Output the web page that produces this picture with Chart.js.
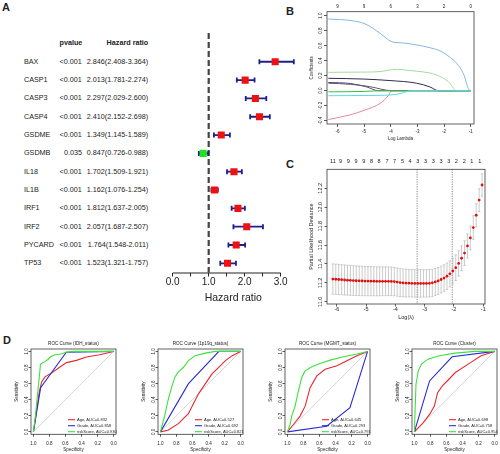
<!DOCTYPE html>
<html>
<head>
<meta charset="utf-8">
<script src="https://cdn.jsdelivr.net/npm/chart.js@4.4.1/dist/chart.umd.min.js"></script>
<style>
  html, body { margin: 0; padding: 0; background: #fff; }
  #page { position: relative; width: 500px; height: 454px; overflow: hidden; font-family: "Liberation Sans", Arial, sans-serif; color: #222; }
  canvas { position: absolute; }
  .lbl { position: absolute; white-space: nowrap; line-height: 1; font-size: 8px; }
  .tag { position: absolute; font-weight: bold; font-size: 11px; line-height: 1; }
</style>
</head>
<body>
<div id="page">
  <div class="tag" style="left:2px;top:2px">A</div>
  <div class="tag" style="left:286px;top:6px">B</div>
  <div class="tag" style="left:286px;top:159px">C</div>
  <div class="tag" style="left:3px;top:335px">D</div>
  <canvas id="forest" width="140" height="310" style="left:160px;top:0"></canvas>
  <canvas id="lasso" width="190" height="145" style="left:295px;top:0"></canvas>
  <canvas id="cv" width="195" height="172" style="left:295px;top:150px"></canvas>
  <canvas id="roc0" width="120" height="116" style="left:0;top:338px"></canvas>
  <canvas id="roc1" width="120" height="116" style="left:127px;top:338px"></canvas>
  <canvas id="roc2" width="120" height="116" style="left:254px;top:338px"></canvas>
  <canvas id="roc3" width="120" height="116" style="left:381px;top:338px"></canvas>
</div>
<script>
// ---- A: univariate Cox forest plot ----
const genes = ['BAX', 'CASP1', 'CASP3', 'CASP4', 'GSDME', 'GSDMB', 'IL18', 'IL1B', 'IRF1', 'IRF2', 'PYCARD', 'TP53'];
const pvals = ['<0.001', '<0.001', '<0.001', '<0.001', '<0.001', '0.035', '<0.001', '<0.001', '<0.001', '<0.001', '<0.001', '<0.001'];
const hr     = [2.846, 2.013, 2.297, 2.410, 1.349, 0.847, 1.702, 1.162, 1.812, 2.057, 1.764, 1.523];
const hrLow  = [2.408, 1.781, 2.029, 2.152, 1.145, 0.726, 1.509, 1.076, 1.637, 1.687, 1.548, 1.321];
const hrHigh = [3.364, 2.274, 2.600, 2.698, 1.589, 0.988, 1.921, 1.254, 2.005, 2.507, 2.011, 1.757];
const forestTicks = [0, 0.5, 1, 1.5, 2, 2.5, 3];

// ---- B: lasso coefficient paths [log lambda, coefficient] ----
const lassoXTicks = [-6, -5, -4, -3, -2, -1];
const lassoDf = [9, 9, 6, 3, 2, 0];
const lassoYTicks = [-0.4, -0.2, 0, 0.2, 0.4, 0.6, 0.8, 1.0];
const pathBlue = [[-6.34, 0.956], [-5.5, 0.935], [-4.96, 0.89], [-4.4, 0.765], [-3.96, 0.653], [-3.5, 0.635], [-3.03, 0.61], [-2.5, 0.57], [-2.15, 0.53], [-1.8, 0.45], [-1.53, 0.365], [-1.28, 0.23], [-1.03, 0], [-1.0, 0]];
const pathLightGreen = [[-6.34, 0.245], [-5.5, 0.247], [-4.96, 0.248], [-4.4, 0.255], [-3.78, 0.285], [-3.3, 0.27], [-3.03, 0.26], [-2.6, 0.24], [-2.28, 0.21], [-1.84, 0.12], [-1.53, 0], [-1.0, 0]];
const pathDark = [[-6.34, 0.165], [-5.0, 0.155], [-4.03, 0.135], [-3.03, 0.1], [-2.53, 0.05], [-2.22, 0], [-1.0, 0]];
const pathPurple = [[-6.34, 0.11], [-5.5, 0.095], [-4.9, 0.05], [-4.47, 0], [-1.0, 0]];
const pathGray = [[-6.34, 0.1], [-5.5, 0.085], [-4.8, 0.055], [-3.96, 0], [-1.0, 0]];
const pathGreen = [[-6.34, -0.015], [-5.0, -0.01], [-4.3, 0], [-1.0, 0]];
const pathCyan = [[-6.34, -0.067], [-5.0, -0.064], [-4.03, -0.058], [-3.6, -0.035], [-3.28, 0], [-1.0, 0]];
const pathPink = [[-6.34, -0.385], [-5.5, -0.32], [-4.96, -0.257], [-4.4, -0.17], [-4.1, -0.07], [-3.96, 0], [-1.0, 0]];

// ---- C: cross-validation curve ----
const cvLogLambda = [-6.14, -6.04, -5.94, -5.84, -5.74, -5.64, -5.54, -5.44, -5.34, -5.24, -5.14, -5.04, -4.94, -4.84, -4.74, -4.64, -4.54, -4.44, -4.34, -4.24, -4.14,
  -4.04, -3.94, -3.84, -3.74, -3.64, -3.54, -3.44, -3.34, -3.24, -3.14, -3.04, -2.94,
  -2.84, -2.74, -2.64, -2.54, -2.44, -2.34, -2.24, -2.14, -2.04, -1.94, -1.84, -1.74, -1.64, -1.54, -1.44, -1.34, -1.24, -1.14, -1.04];
const cvDeviance = [11.240, 11.238, 11.235, 11.233, 11.230, 11.228, 11.226, 11.224, 11.222, 11.221, 11.220, 11.219, 11.218, 11.217, 11.217, 11.216, 11.216, 11.216, 11.216, 11.216, 11.215,
  11.213, 11.208, 11.203, 11.199, 11.197, 11.196, 11.195, 11.194, 11.194, 11.194, 11.194, 11.194,
  11.195, 11.200, 11.210, 11.220, 11.235, 11.250, 11.270, 11.295, 11.325, 11.360, 11.405, 11.460, 11.515, 11.590, 11.675, 11.785, 11.915, 12.075, 12.235];
const cvSE = [0.160, 0.160, 0.160, 0.159, 0.159, 0.158, 0.158, 0.157, 0.157, 0.156, 0.156, 0.155, 0.155, 0.154, 0.154, 0.153, 0.153, 0.152, 0.152, 0.151, 0.151,
  0.150, 0.149, 0.148, 0.147, 0.146, 0.145, 0.145, 0.145, 0.145, 0.145, 0.145, 0.145,
  0.145, 0.144, 0.143, 0.142, 0.141, 0.140, 0.139, 0.138, 0.137, 0.136, 0.134, 0.132, 0.130, 0.128, 0.126, 0.124, 0.122, 0.120, 0.118];
const cvTopTicks = [-6.14, -5.88, -5.61, -5.35, -5.08, -4.82, -4.56, -4.29, -4.03, -3.76, -3.50, -3.24, -2.97, -2.71, -2.44, -2.18, -1.92, -1.65, -1.39, -1.12];
const cvNzero = [11, 9, 9, 9, 9, 8, 8, 7, 7, 5, 4, 3, 3, 3, 3, 3, 2, 2, 1, 1];
const cvYTicks = [11.0, 11.2, 11.4, 11.6, 11.8, 12.0, 12.2];
const cvLambdaMin = -3.26;
const cvLambda1se = -2.06;

// ---- D: ROC curves [specificity, sensitivity] ----
const rocTitles = ['ROC Curve (IDH_status)', 'ROC Curve (1p19q_status)', 'ROC Curve (MGMT_status)', 'ROC Curve (Cluster)'];
const aucAge = [0.832, 0.527, 0.645, 0.698];
const aucGrade = [0.858, 0.692, 0.293, 0.758];
const aucRisk = [0.930, 0.821, 0.791, 0.954];
const rocTicks = [0, 0.2, 0.4, 0.6, 0.8, 1.0];
const diagonal = [[1, 0], [0, 1]];

const idhAge = [[1, 0], [0.98, 0.13], [0.95, 0.34], [0.926, 0.5], [0.897, 0.62], [0.855, 0.684], [0.752, 0.746], [0.669, 0.807], [0.587, 0.861], [0.463, 0.889], [0.339, 0.93], [0.174, 0.959], [0, 1]];
const idhGrade = [[1, 0], [0.91, 0.55], [0.59, 0.99], [0, 1]];
const idhRisk = [[1, 0], [0.975, 0.2], [0.955, 0.4], [0.935, 0.6], [0.92, 0.75], [0.912, 0.84], [0.89, 0.855], [0.86, 0.87], [0.82, 0.9], [0.79, 0.93], [0.74, 0.955], [0.68, 0.965], [0.63, 0.975], [0.6, 0.99], [0.5, 1], [0, 1]];
const codelAge = [[1, 0], [0.905, 0.02], [0.777, 0.103], [0.651, 0.226], [0.588, 0.35], [0.525, 0.473], [0.441, 0.597], [0.357, 0.72], [0.273, 0.802], [0.189, 0.885], [0.105, 0.947], [0, 1]];
const codelGrade = [[1, 0], [0.65, 0.6], [0.27, 1], [0, 1]];
const codelRisk = [[1, 0], [0.95, 0.185], [0.905, 0.39], [0.86, 0.556], [0.82, 0.68], [0.78, 0.74], [0.714, 0.8], [0.65, 0.885], [0.567, 0.947], [0.44, 0.979], [0.315, 1], [0, 1]];
const mgmtAge = [[1, 0], [0.925, 0.092], [0.842, 0.196], [0.779, 0.32], [0.717, 0.55], [0.633, 0.696], [0.529, 0.779], [0.383, 0.821], [0.258, 0.883], [0.133, 0.946], [0, 1]];
const mgmtGrade = [[1, 0], [0.51, 0.07], [0.22, 0.3], [0, 1]];
const mgmtRisk = [[1, 0], [0.967, 0.092], [0.946, 0.196], [0.904, 0.32], [0.863, 0.508], [0.821, 0.675], [0.779, 0.758], [0.696, 0.808], [0.592, 0.85], [0.467, 0.892], [0.3, 0.933], [0.133, 0.967], [0, 1]];
const clusterAge = [[1, 0], [0.892, 0.113], [0.811, 0.217], [0.751, 0.32], [0.711, 0.488], [0.651, 0.571], [0.57, 0.654], [0.49, 0.738], [0.329, 0.842], [0.169, 0.946], [0, 1]];
const clusterGrade = [[1, 0], [0.811, 0.633], [0.53, 0.933], [0, 1]];
const clusterRisk = [[1, 0], [0.992, 0.258], [0.98, 0.592], [0.952, 0.758], [0.912, 0.842], [0.831, 0.904], [0.691, 0.946], [0.49, 0.979], [0.249, 1], [0, 1]];

const FONT = '"Liberation Sans", Arial, Helvetica, sans-serif';
Chart.defaults.font.family = FONT;
Chart.defaults.color = '#222';
Chart.defaults.animation = false;
Chart.defaults.responsive = false;
Chart.defaults.plugins.legend.display = false;
Chart.defaults.plugins.tooltip.enabled = false;

// extra drawing done R-style: box, rotated y labels, ref lines, error bars, legend
const rDeco = {
  id: 'rDeco',
  beforeDatasetsDraw(chart, args, o) {
    const {ctx, chartArea: a, scales} = chart;
    const x = scales.x, y = scales.y;
    ctx.save();
    if (o.vline) {
      ctx.strokeStyle = o.vline.color; ctx.lineWidth = o.vline.width;
      ctx.setLineDash(o.vline.dash);
      o.vline.at.forEach(v => {
        const px = x.getPixelForValue(v);
        ctx.beginPath(); ctx.moveTo(px, a.top); ctx.lineTo(px, a.bottom); ctx.stroke();
      });
      ctx.setLineDash([]);
    }
    if (o.hbars) {
      const b = o.hbars;
      ctx.strokeStyle = b.color; ctx.lineWidth = b.width;
      b.low.forEach((lo, i) => {
        const py = y.getPixelForValue(i + 1);
        const x0 = x.getPixelForValue(lo), x1 = x.getPixelForValue(b.high[i]);
        ctx.beginPath();
        ctx.moveTo(x0, py); ctx.lineTo(x1, py);
        ctx.moveTo(x0, py - b.cap); ctx.lineTo(x0, py + b.cap);
        ctx.moveTo(x1, py - b.cap); ctx.lineTo(x1, py + b.cap);
        ctx.stroke();
      });
    }
    if (o.vbars) {
      const b = o.vbars;
      ctx.strokeStyle = b.color; ctx.lineWidth = b.width;
      b.xs.forEach((xv, i) => {
        const px = x.getPixelForValue(xv);
        const y0 = y.getPixelForValue(b.mid[i] - b.se[i]), y1 = y.getPixelForValue(b.mid[i] + b.se[i]);
        ctx.beginPath();
        ctx.moveTo(px, y0); ctx.lineTo(px, y1);
        ctx.moveTo(px - b.cap, y0); ctx.lineTo(px + b.cap, y0);
        ctx.moveTo(px - b.cap, y1); ctx.lineTo(px + b.cap, y1);
        ctx.stroke();
      });
    }
    ctx.restore();
  },
  afterDraw(chart, args, o) {
    const {ctx, chartArea: a} = chart;
    ctx.save();
    if (o.box) {
      ctx.strokeStyle = '#3a3a3a'; ctx.lineWidth = 0.8;
      ctx.strokeRect(a.left, a.top, a.right - a.left, a.bottom - a.top);
    }
    if (o.axisSpan) {
      const x = chart.scales.x;
      ctx.strokeStyle = '#222'; ctx.lineWidth = 1;
      ctx.beginPath();
      ctx.moveTo(x.getPixelForValue(o.axisSpan[0]), a.bottom + 0.5);
      ctx.lineTo(x.getPixelForValue(o.axisSpan[1]), a.bottom + 0.5);
      ctx.stroke();
    }
    if (o.ylab) {
      const ys = chart.scales.y;
      ctx.fillStyle = '#222'; ctx.font = o.ylab.size + 'px ' + FONT;
      ctx.textAlign = 'center'; ctx.textBaseline = 'middle';
      ys.ticks.forEach(t => {
        ctx.save();
        ctx.translate(a.left - o.ylab.offset, ys.getPixelForValue(t.value));
        ctx.rotate(-Math.PI / 2);
        ctx.fillText(t.label, 0, 0);
        ctx.restore();
      });
    }
    if (o.heading) {
      ctx.fillStyle = '#222'; ctx.font = o.heading.size + 'px ' + FONT;
      ctx.textAlign = 'center'; ctx.textBaseline = 'middle';
      ctx.fillText(o.heading.text, (a.left + a.right) / 2, a.top - o.heading.gap);
    }
    if (o.leg) {
      const l = o.leg;
      ctx.font = l.size + 'px ' + FONT; ctx.textAlign = 'left'; ctx.textBaseline = 'middle';
      l.labels.forEach((txt, i) => {
        const yy = a.bottom - l.rows[i];
        ctx.strokeStyle = l.colors[i]; ctx.lineWidth = 1.1;
        ctx.beginPath(); ctx.moveTo(a.left + l.x0, yy); ctx.lineTo(a.left + l.x0 + l.len, yy); ctx.stroke();
        ctx.fillStyle = '#222';
        ctx.fillText(txt, a.left + l.x0 + l.len + 2, yy);
      });
    }
    ctx.restore();
  }
};
Chart.register(rDeco);

function rAxis(c) {
  return {
    type: 'linear', position: c.position, min: c.min, max: c.max, reverse: !!c.reverse,
    afterBuildTicks: s => { s.ticks = c.ticks.map(v => ({value: v})); },
    afterFit: s => { if (s.isHorizontal()) s.height = c.size; else s.width = c.size; },
    grid: { drawOnChartArea: false, display: c.tick > 0, drawTicks: c.tick > 0, tickLength: c.tick, color: '#333', lineWidth: 0.8 },
    border: { display: false },
    ticks: { display: !c.hideLabels, padding: c.pad || 0, font: {size: c.font}, maxRotation: 0, minRotation: 0, autoSkip: false, color: '#222', callback: c.fmt },
    title: { display: !!c.title, text: c.title, font: {size: c.font}, padding: c.titlePad || 0, color: '#222' }
  };
}
const pts = arr => arr.map(([x, y]) => ({x, y}));

// ---- A ----
const forest = new Chart(document.getElementById('forest'), {
  type: 'scatter',
  data: {
    datasets: [{
      data: hr.map((v, i) => ({x: v, y: i + 1})),
      pointStyle: 'rect', pointRadius: 5, pointBorderWidth: 0,
      pointBackgroundColor: hr.map(v => v < 1 ? '#1ee61e' : '#ee1111')
    }]
  },
  options: {
    layout: { padding: { left: 12.7, right: 6.2, top: 33, bottom: 0 } },
    scales: {
      x: {
        type: 'linear', min: 0, max: 3.364,
        afterBuildTicks: s => { s.ticks = forestTicks.map(v => ({value: v})); },
        afterFit: s => { s.height = 37.5; },
        grid: { drawOnChartArea: false, tickLength: 4, color: '#222', lineWidth: 1 },
        border: { display: false },
        ticks: { padding: 0, font: {size: 10}, maxRotation: 0, autoSkip: false, color: '#222',
                 callback: v => (v % 1 === 0 ? v.toFixed(1) : '') },
        title: { display: true, text: 'Hazard ratio', font: {size: 10.5}, padding: {top: 0, bottom: 6}, color: '#222' }
      },
      y: { type: 'linear', reverse: true, min: -0.57, max: 12.5, display: false }
    },
    plugins: {
      rDeco: {
        axisSpan: [0, 3],
        vline: { at: [1], dash: [6, 3], width: 2.2, color: '#444' },
        hbars: { low: hrLow, high: hrHigh, color: '#1f1f8c', width: 1.8, cap: 2.5 }
      }
    }
  }
});

// table text, aligned to the forest rows
const page = document.getElementById('page');
function addText(txt, css) {
  const d = document.createElement('div');
  d.className = 'lbl';
  d.textContent = txt;
  Object.assign(d.style, css);
  page.appendChild(d);
}
const fy = forest.scales.y;
genes.forEach((g, i) => {
  const cy = fy.getPixelForValue(i + 1) + 'px';
  addText(g, {left: '24px', top: cy, transform: 'translateY(-50%) scaleX(0.9)', transformOrigin: 'left center'});
  addText(pvals[i], {right: '418px', top: cy, transform: 'translateY(-50%) scaleX(0.9)', transformOrigin: 'right center'});
  const txt = hr[i].toFixed(3) + '(' + hrLow[i].toFixed(3) + '-' + hrHigh[i].toFixed(3) + ')';
  addText(txt, {right: '352px', top: cy, transform: 'translateY(-50%) scaleX(0.9)', transformOrigin: 'right center'});
});
addText('pvalue', {right: '418px', top: '43px', fontWeight: 'bold', transform: 'translateY(-50%) scaleX(0.9)', transformOrigin: 'right center'});
addText('Hazard ratio', {right: '352px', top: '43px', fontWeight: 'bold', transform: 'translateY(-50%) scaleX(0.9)', transformOrigin: 'right center'});

// ---- B ----
const lassoPaths = [pathCyan, pathGreen, pathBlue, pathLightGreen, pathDark, pathGray, pathPurple, pathPink];
const lassoColors = ['#55dde6', '#3bbf3b', '#86b6e0', '#a6d9a0', '#2d2d4d', '#5a5a6a', '#5b3f7f', '#e8889a'];
new Chart(document.getElementById('lasso'), {
  type: 'scatter',
  data: {
    datasets: lassoPaths.map((p, i) => ({
      data: pts(p), showLine: true, borderColor: lassoColors[i], borderWidth: 1,
      pointRadius: 0, cubicInterpolationMode: 'monotone'
    }))
  },
  options: {
    layout: { padding: { left: 0, right: 11, top: 0, bottom: 0 } },
    scales: {
      x: rAxis({position: 'bottom', min: -6.39, max: -0.88, ticks: lassoXTicks, size: 21, tick: 3, pad: 2, font: 4.5,
                fmt: v => String(v), title: 'Log Lambda', titlePad: {top: 0, bottom: 4}}),
      xTop: rAxis({position: 'top', min: -6.39, max: -0.88, ticks: lassoXTicks, size: 11.7, tick: 0, pad: 2.3, font: 4.5,
                fmt: (v, i) => String(lassoDf[i])}),
      y: rAxis({position: 'left', min: -0.444, max: 1.053, ticks: lassoYTicks, size: 32, tick: 3, font: 4.5, hideLabels: true,
                fmt: v => v.toFixed(1), title: 'Coefficients', titlePad: {top: 14, bottom: 0}})
    },
    plugins: { rDeco: { box: true, ylab: { offset: 6, size: 4.5 } } }
  }
});

// ---- C ----
new Chart(document.getElementById('cv'), {
  type: 'scatter',
  data: {
    datasets: [{
      data: cvLogLambda.map((v, i) => ({x: v, y: cvDeviance[i]})),
      pointRadius: 1.4, pointBorderWidth: 0, pointBackgroundColor: '#e01010'
    }]
  },
  options: {
    layout: { padding: { left: 0, right: 5, top: 0, bottom: 0 } },
    scales: {
      x: rAxis({position: 'bottom', min: -6.34, max: -0.94, ticks: lassoXTicks, size: 18, tick: 2.5, pad: 0, font: 5.5,
                fmt: v => String(v), title: 'Log(λ)', titlePad: {top: 0, bottom: 1.7}}),
      xTop: rAxis({position: 'top', min: -6.34, max: -0.94, ticks: cvTopTicks, size: 19.3, tick: 0, pad: 4.3, font: 5.5,
                fmt: (v, i) => String(cvNzero[i])}),
      y: rAxis({position: 'left', min: 10.976, max: 12.401, ticks: cvYTicks, size: 32, tick: 2.5, font: 5.5, hideLabels: true,
                fmt: v => v.toFixed(1), title: 'Partial Likelihood Deviance', titlePad: {top: 13.4, bottom: 0}})
    },
    plugins: {
      rDeco: {
        box: true,
        ylab: { offset: 6.6, size: 5.5 },
        vline: { at: [cvLambdaMin, cvLambda1se], dash: [1.2, 1.2], width: 0.8, color: '#666' },
        vbars: { xs: cvLogLambda, mid: cvDeviance, se: cvSE, color: '#b4b4b4', width: 0.7, cap: 1.2 }
      }
    }
  }
});

// ---- D ----
const rocAge = [idhAge, codelAge, mgmtAge, clusterAge];
const rocGrade = [idhGrade, codelGrade, mgmtGrade, clusterGrade];
const rocRisk = [idhRisk, codelRisk, mgmtRisk, clusterRisk];
const ageColor = '#e8282f', gradeColor = '#2b2bd6', riskColor = '#3ee03e';
function rocChart(k) {
  new Chart(document.getElementById('roc' + k), {
    type: 'scatter',
    data: {
      datasets: [
        { data: pts(rocRisk[k]), showLine: true, borderColor: riskColor, borderWidth: 1.1, pointRadius: 0 },
        { data: pts(rocGrade[k]), showLine: true, borderColor: gradeColor, borderWidth: 1.1, pointRadius: 0 },
        { data: pts(rocAge[k]), showLine: true, borderColor: ageColor, borderWidth: 1.1, pointRadius: 0 },
        { data: pts(diagonal), showLine: true, borderColor: '#cccccc', borderWidth: 0.8, pointRadius: 0 }
      ]
    },
    options: {
      layout: { padding: { left: 0, right: 4, top: 11, bottom: 0 } },
      scales: {
        x: rAxis({position: 'bottom', min: -0.03, max: 1.03, reverse: true, ticks: rocTicks, size: 19.7, tick: 2.5, pad: 3.8, font: 4.5,
                  fmt: v => v.toFixed(1), title: 'Specificity', titlePad: {top: 0, bottom: 1.3}}),
        y: rAxis({position: 'left', min: -0.03, max: 1.03, ticks: rocTicks, size: 31, tick: 2.5, font: 4.5, hideLabels: true,
                  fmt: v => v.toFixed(1), title: 'Sensitivity', titlePad: {top: 14, bottom: 0}})
      },
      plugins: {
        rDeco: {
          box: true,
          ylab: { offset: 4.7, size: 4.5 },
          heading: { text: rocTitles[k], gap: 5.7, size: 4.6 },
          leg: {
            labels: ['Age, AUC=' + aucAge[k].toFixed(3), 'Grade, AUC=' + aucGrade[k].toFixed(3), 'riskScore, AUC=' + aucRisk[k].toFixed(3)],
            colors: [ageColor, gradeColor, riskColor],
            rows: [14.6, 8.6, 2.6], x0: 37, len: 7, size: 4
          }
        }
      }
    }
  });
}
[0, 1, 2, 3].forEach(rocChart);
</script>
</body>
</html>
